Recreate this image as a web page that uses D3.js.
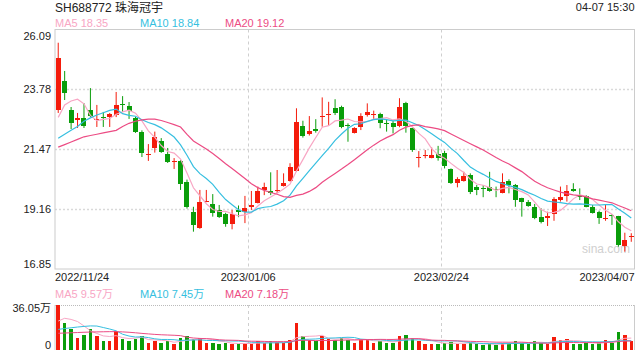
<!DOCTYPE html>
<html>
<head>
<meta charset="utf-8">
<script src="https://cdn.jsdelivr.net/npm/d3@7"></script>
<style>
  body { margin: 0; background: #fff; }
  svg { display: block; font-family: "Liberation Sans", Arial, "Noto Sans CJK SC", sans-serif; }
</style>
</head>
<body>
<svg id="chart" width="640" height="360"></svg>
<script>
// Trading days shown (categories).
var tradingDays = [].concat(
  ['2022/11/24', '2022/11/25', '2022/11/28', '2022/11/29', '2022/11/30'],
  ['2022/12/01', '2022/12/02', '2022/12/05', '2022/12/06', '2022/12/07', '2022/12/08', '2022/12/09',
   '2022/12/12', '2022/12/13', '2022/12/14', '2022/12/15', '2022/12/16', '2022/12/19', '2022/12/20',
   '2022/12/21', '2022/12/22', '2022/12/23', '2022/12/26', '2022/12/27', '2022/12/28', '2022/12/29', '2022/12/30'],
  ['2023/01/03', '2023/01/04', '2023/01/05', '2023/01/06', '2023/01/09', '2023/01/10', '2023/01/11',
   '2023/01/12', '2023/01/13', '2023/01/16', '2023/01/17', '2023/01/18', '2023/01/19', '2023/01/20',
   '2023/01/30', '2023/01/31'],
  ['2023/02/01', '2023/02/02', '2023/02/03', '2023/02/06', '2023/02/07', '2023/02/08', '2023/02/09',
   '2023/02/10', '2023/02/13', '2023/02/14', '2023/02/15', '2023/02/16', '2023/02/17', '2023/02/20',
   '2023/02/21', '2023/02/22', '2023/02/23', '2023/02/24', '2023/02/27', '2023/02/28'],
  ['2023/03/01', '2023/03/02', '2023/03/03', '2023/03/06', '2023/03/07', '2023/03/08', '2023/03/09',
   '2023/03/10', '2023/03/13', '2023/03/14', '2023/03/15', '2023/03/16', '2023/03/17', '2023/03/20',
   '2023/03/21', '2023/03/22', '2023/03/23', '2023/03/24', '2023/03/27', '2023/03/28', '2023/03/29',
   '2023/03/30', '2023/03/31'],
  ['2023/04/03', '2023/04/04', '2023/04/06', '2023/04/07']
);

var opens = [22.98, 24.10, 22.98, 22.60, 22.68, 22.98, 22.60, 22.72, 22.71, 22.79,
  23.23, 23.14, 22.68, 22.15, 21.25, 21.51, 21.80, 21.29, 20.99, 21.02,
  20.22, 19.06, 18.42, 19.45, 19.36, 19.13, 18.97, 18.57, 19.13, 19.06,
  19.25, 19.41, 19.90, 19.86, 19.88, 20.05, 20.26, 20.64, 22.37, 22.07,
  22.25, 22.74, 22.81, 23.05, 23.11, 22.41, 22.11, 22.34, 22.79, 22.81,
  22.83, 22.48, 22.50, 22.37, 23.24, 22.28, 21.15, 21.24, 21.14, 21.27,
  21.31, 20.70, 20.18, 20.26, 20.48, 20.00, 19.99, 20.00, 19.94, 19.79,
  20.26, 20.09, 19.58, 19.45, 19.25, 18.87, 18.81, 18.97, 19.51, 19.67,
  19.92, 19.68, 19.67, 19.25, 19.06, 18.80, 18.94, 18.89, 17.74, 18.09];
var highs = [25.58, 24.49, 23.10, 22.87, 23.25, 23.83, 23.18, 22.91, 22.87, 23.68,
  23.52, 23.29, 22.72, 22.20, 21.67, 22.15, 21.90, 21.52, 21.13, 21.05,
  20.30, 19.25, 19.90, 19.90, 19.74, 19.32, 19.02, 19.13, 19.30, 19.67,
  19.86, 20.03, 20.18, 20.58, 20.67, 20.54, 20.93, 23.05, 22.57, 22.75,
  22.63, 23.47, 23.30, 23.40, 23.15, 22.47, 22.32, 22.86, 23.24, 22.96,
  22.88, 22.63, 22.57, 23.44, 23.30, 22.30, 21.40, 21.44, 21.54, 21.60,
  21.41, 20.73, 20.39, 20.60, 20.54, 20.09, 20.09, 20.60, 20.03, 20.54,
  20.31, 20.13, 19.60, 19.51, 19.36, 19.19, 19.06, 19.62, 20.03, 20.09,
  20.16, 19.96, 19.70, 19.32, 19.10, 19.32, 18.97, 18.90, 18.25, 18.23];
var lows = [22.87, 23.37, 22.25, 22.29, 22.29, 22.71, 22.33, 22.33, 22.33, 22.71,
  22.91, 22.64, 22.10, 21.17, 21.02, 21.34, 21.33, 20.94, 20.71, 19.90,
  19.18, 18.29, 18.40, 19.43, 18.87, 18.82, 18.48, 18.38, 18.85, 18.62,
  19.13, 19.38, 19.70, 19.70, 19.78, 20.03, 20.22, 20.60, 21.92, 22.00,
  22.11, 22.34, 22.41, 22.79, 22.28, 21.76, 22.08, 22.21, 22.73, 22.63,
  22.28, 22.15, 22.08, 22.32, 22.11, 21.37, 20.77, 21.12, 21.12, 21.03,
  20.73, 20.13, 20.00, 20.22, 19.74, 19.70, 19.62, 19.83, 19.62, 19.77,
  19.77, 19.25, 18.87, 19.25, 18.77, 18.61, 18.51, 18.71, 19.45, 19.45,
  19.83, 19.51, 19.23, 18.99, 18.59, 18.71, 18.55, 17.71, 17.52, 17.90];
var closes = [24.99, 23.63, 22.47, 22.66, 22.37, 22.75, 22.62, 22.71, 22.83, 23.18,
  23.22, 22.95, 22.14, 21.33, 21.27, 21.95, 21.38, 20.99, 21.01, 20.12,
  19.25, 18.55, 19.45, 19.47, 19.00, 18.87, 18.59, 18.97, 19.06, 19.20,
  19.30, 19.86, 20.00, 19.77, 19.91, 20.16, 20.77, 22.53, 21.98, 22.17,
  22.17, 22.76, 22.83, 22.88, 22.32, 22.39, 22.28, 22.75, 22.92, 22.83,
  22.47, 22.46, 22.32, 23.11, 22.37, 21.44, 21.17, 21.26, 21.24, 21.14,
  20.82, 20.16, 20.31, 20.44, 19.83, 19.90, 19.92, 19.87, 19.90, 20.22,
  20.09, 19.51, 19.45, 19.28, 18.81, 18.67, 18.89, 19.54, 19.62, 19.87,
  19.86, 19.67, 19.25, 19.02, 18.81, 18.82, 18.93, 17.78, 17.97, 18.11];
// Volume in 万 shares.
var volumes = [36.05, 22, 16.8, 9.4, 12, 16.8, 11.2, 7, 7, 15.5,
  8.7, 7.5, 8.7, 11, 6, 7, 6, 7, 5, 9.5,
  11, 9, 10, 6, 6, 5, 5.5, 5, 4.5, 6,
  5, 7, 6, 7, 6.5, 6, 8, 21.9, 11, 8,
  7, 11, 9, 8, 10, 8, 6, 9, 8, 6,
  7, 5.5, 6, 11.2, 12, 10, 7, 5, 5, 4.5,
  6, 6.5, 5, 5, 6, 4.5, 4, 5, 4, 6,
  6, 7, 6, 5, 7, 6, 5, 10.5, 8, 8.6,
  5, 4.5, 6, 5, 6.15, 8, 6, 14.7, 12, 7];

// Moving average values before the window fills.
var ma5Lead = [22.70, 23.18, 23.33, 23.40];
var ma10Lead = [21.89, 22.05, 22.20, 22.35, 22.55, 22.68, 22.79, 22.88, 22.97];
var ma20Lead = [21.55, 21.65, 21.75, 21.85, 21.95, 22.00, 22.05, 22.10, 22.15, 22.20,
  22.35, 22.47, 22.55, 22.60, 22.63, 22.63, 22.58, 22.50, 22.42];
var vma5Lead = [23.2, 25.4, 24.5, 22.8];
var vma10Lead = [16.5, 17.2, 17.8, 18.4, 18.9, 19.3, 19.2, 18.0, 16.8];
var vma20Lead = [13.4, 13.6, 13.8, 14.0, 14.2, 14.4, 14.5, 14.6, 14.7, 14.7,
  14.5, 14.2, 13.8, 13.3, 12.9, 12.5, 12.2, 12.0, 11.8];

var priceTicks = [26.09, 23.78, 21.47, 19.16, 16.85];
var volumeTicks = [36.05, 0];
var dateTicks = ['2022/11/24', '2023/01/06', '2023/02/24', '2023/04/07'];
var maNames = ['MA5', 'MA10', 'MA20'];
var maPeriods = [5, 10, 20];
var priceMaLast = ['18.35', '18.84', '19.12'];
var volumeMaLast = ['9.57万', '7.45万', '7.18万'];

var UP = '#f41b0b', DOWN = '#0a9d0a';
var maColors = ['#f8a6c4', '#36bfe0', '#ec4c84'];

var left = 55, right = 634.5;
var mainTop = 29.5, mainBottom = 269;
var volTop = 305, volBottom = 350;

var svg = d3.select('#chart');

var x = d3.scaleBand().domain(tradingDays).range([left, right]).padding(0);
var bw = x.bandwidth();
function cx(i) { return x(tradingDays[i]) + bw / 2; }

var y = d3.scaleLinear().domain([16.85, 26.09]).range([mainBottom, mainTop]);
var yv = d3.scaleLinear().domain([0, 36.05]).range([volBottom, volTop]);

function movingAverage(values, n, lead) {
  return values.map(function (v, i) {
    return i < n - 1 ? lead[i] : d3.mean(values.slice(i - n + 1, i + 1));
  });
}

// Header.
svg.append('text').attr('x', left).attr('y', 12)
  .style('font-size', '12px').style('fill', '#222')
  .text('SH688772 珠海冠宇');
svg.append('text').attr('x', right).attr('y', 11)
  .attr('text-anchor', 'end')
  .style('font-size', '11px').style('fill', '#222')
  .text('04-07 15:30');

function legend(ypos, values) {
  var xs = [55, 140, 225];
  maNames.forEach(function (name, k) {
    svg.append('text').attr('x', xs[k]).attr('y', ypos)
      .style('font-size', '11px').style('fill', maColors[k])
      .text(name + ' ' + values[k]);
  });
}
legend(27, priceMaLast);
legend(298, volumeMaLast);

// Grid: dashed verticals on the middle date ticks.
[dateTicks[1], dateTicks[2]].forEach(function (d) {
  var gx = Math.round(x(d)) + 0.5;
  [[mainTop, mainBottom], [volTop, volBottom]].forEach(function (r) {
    svg.append('line')
      .attr('x1', gx).attr('x2', gx).attr('y1', r[0]).attr('y2', r[1])
      .style('stroke', '#cfcfcf').style('stroke-dasharray', '3,3');
  });
});

// Dotted horizontals on inner price ticks.
svg.selectAll('line.hgrid').data(priceTicks.slice(1, -1)).enter().append('line')
  .attr('class', 'hgrid')
  .attr('x1', left).attr('x2', right)
  .attr('y1', function (d) { return Math.round(y(d)) + 0.5; })
  .attr('y2', function (d) { return Math.round(y(d)) + 0.5; })
  .style('stroke', '#d9d9d9').style('stroke-width', 1.5).style('stroke-dasharray', '2,2');

// Frames.
svg.append('rect')
  .attr('x', left).attr('y', mainTop)
  .attr('width', right - left).attr('height', mainBottom - mainTop)
  .style('fill', 'none').style('stroke', '#cccccc');
svg.append('line').attr('x1', left).attr('x2', right).attr('y1', volTop + 0.5).attr('y2', volTop + 0.5)
  .style('stroke', '#bbbbbb').style('stroke-dasharray', '1,1');
svg.append('line').attr('x1', left).attr('x2', left).attr('y1', volTop).attr('y2', volBottom)
  .style('stroke', '#cccccc');
svg.append('line').attr('x1', right).attr('x2', right).attr('y1', volTop).attr('y2', volBottom)
  .style('stroke', '#cccccc');

// Watermark.
svg.append('text').attr('x', 582).attr('y', 253)
  .style('font-size', '12px').style('fill', '#cfcfcf')
  .text('sina.com');

// Price axis.
var yAxis = d3.axisLeft(y).tickValues(priceTicks).tickSize(0).tickPadding(4)
  .tickFormat(d3.format('.2f'));
var gy = svg.append('g').attr('transform', 'translate(' + left + ',0)').call(yAxis);
gy.select('.domain').remove();
gy.selectAll('text').style('font-size', '11px').style('fill', '#222')
  .style('font-family', '"Liberation Sans", Arial, sans-serif');
gy.selectAll('.tick').filter(function (d) { return d === priceTicks[0]; })
  .select('text').attr('dy', '0.95em');
gy.selectAll('.tick').filter(function (d) { return d === priceTicks[priceTicks.length - 1]; })
  .select('text').attr('dy', '-0.15em');

// Volume axis.
var vAxis = d3.axisLeft(yv).tickValues(volumeTicks).tickSize(0).tickPadding(4)
  .tickFormat(function (d) { return d === 0 ? '0' : d3.format('.2f')(d) + '万'; });
var gv = svg.append('g').attr('transform', 'translate(' + left + ',0)').call(vAxis);
gv.select('.domain').remove();
gv.selectAll('text').style('font-size', '11px').style('fill', '#222')
  .style('font-family', '"Liberation Sans", Arial, "Noto Sans CJK SC", sans-serif');
gv.selectAll('.tick').filter(function (d) { return d === 0; })
  .select('text').attr('dy', '-0.15em');
gv.selectAll('.tick').filter(function (d) { return d !== 0; })
  .select('text').attr('dy', '0.55em');

// Date axis (labels on the left edge of each day).
var xAxis = d3.axisBottom(x).tickValues(dateTicks).tickSize(0).tickPadding(4);
var gx = svg.append('g').attr('transform', 'translate(' + (-bw / 2) + ',' + mainBottom + ')').call(xAxis);
gx.select('.domain').remove();
gx.selectAll('text').style('font-size', '11px').style('fill', '#222')
  .style('font-family', '"Liberation Sans", Arial, sans-serif');
gx.selectAll('.tick').filter(function (d) { return d === dateTicks[0]; })
  .select('text').attr('text-anchor', 'start');
gx.selectAll('.tick').filter(function (d) { return d === dateTicks[dateTicks.length - 1]; })
  .select('text').attr('text-anchor', 'end').attr('x', bw);

// Candles.
var idx = d3.range(tradingDays.length);
function colorOf(i) { return closes[i] >= opens[i] ? UP : DOWN; }

var candles = svg.append('g').attr('class', 'candles');
candles.selectAll('line').data(idx).enter().append('line')
  .attr('x1', cx).attr('x2', cx)
  .attr('y1', function (i) { return y(highs[i]); })
  .attr('y2', function (i) { return y(lows[i]); })
  .style('stroke', colorOf).style('stroke-width', 1);
candles.selectAll('rect').data(idx).enter().append('rect')
  .attr('x', function (i) { return cx(i) - 2.5; })
  .attr('width', 5)
  .attr('y', function (i) { return y(Math.max(opens[i], closes[i])); })
  .attr('height', function (i) { return Math.max(1, Math.abs(y(opens[i]) - y(closes[i]))); })
  .style('fill', colorOf)
  .attr('shape-rendering', 'crispEdges');

// Volume bars.
svg.append('g').selectAll('rect').data(idx).enter().append('rect')
  .attr('x', function (i) { return cx(i) - 1.75; })
  .attr('width', 3.5)
  .attr('y', function (i) { return yv(volumes[i]); })
  .attr('height', function (i) { return yv(0) - yv(volumes[i]); })
  .style('fill', colorOf)
  .attr('shape-rendering', 'crispEdges');

// Moving averages.
var priceLeads = [ma5Lead, ma10Lead, ma20Lead];
var volLeads = [vma5Lead, vma10Lead, vma20Lead];
maPeriods.forEach(function (n, k) {
  var pm = movingAverage(closes, n, priceLeads[k]);
  var vm = movingAverage(volumes, n, volLeads[k]);
  svg.append('path').datum(idx)
    .attr('d', d3.line().x(cx).y(function (i) { return y(pm[i]); }))
    .style('fill', 'none').style('stroke', maColors[k]).style('stroke-width', 1.2);
  svg.append('path').datum(idx)
    .attr('d', d3.line().x(cx).y(function (i) { return yv(vm[i]); }))
    .style('fill', 'none').style('stroke', maColors[k]).style('stroke-width', 1);
});
</script>
</body>
</html>
